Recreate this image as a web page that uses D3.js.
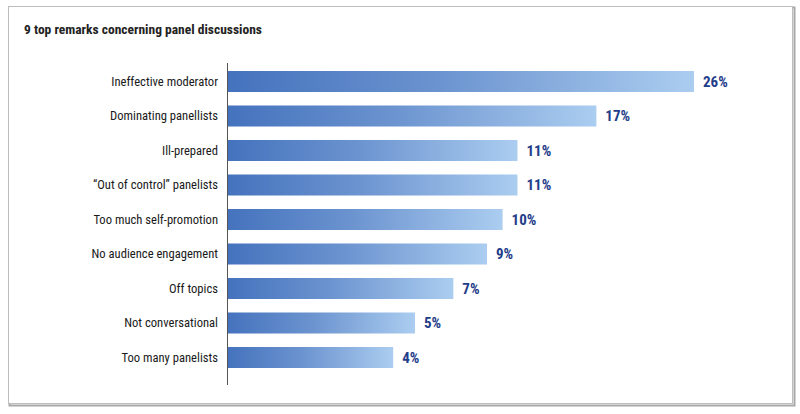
<!DOCTYPE html>
<html>
<head>
<meta charset="utf-8">
<script src="https://cdn.jsdelivr.net/npm/d3@7"></script>
<style>
  html, body { margin: 0; padding: 0; background: #fff; }
  svg { display: block; }
  text { font-family: "Liberation Sans Narrow", "Roboto Condensed", "DejaVu Sans Condensed", sans-serif; }
</style>
</head>
<body>
<svg id="chart" width="800" height="414"></svg>
<script>
const title = "9 top remarks concerning panel discussions";
const categories = [
  "Ineffective moderator",
  "Dominating panellists",
  "Ill-prepared",
  "\u201cOut of control\u201d panelists",
  "Too much self-promotion",
  "No audience engagement",
  "Off topics",
  "Not conversational",
  "Too many panelists"
];
const values = [26, 17, 11, 11, 10, 9, 7, 5, 4];
const valueLabels = ["26%", "17%", "11%", "11%", "10%", "9%", "7%", "5%", "4%"];

const data = categories.map((c, i) => ({ cat: c, v: values[i], lab: valueLabels[i] }));

const svg = d3.select("#chart");

// frame with soft shadow
svg.append("rect").attr("x", 9.5).attr("y", 7.5).attr("width", 785).attr("height", 398)
  .attr("fill", "none").attr("stroke", "#a8a8a8").attr("stroke-width", 2);
svg.append("rect").attr("x", 8.5).attr("y", 6.5).attr("width", 784).attr("height", 397)
  .attr("fill", "#fff").attr("stroke", "#bdbdbd").attr("stroke-width", 1);

svg.append("text")
  .attr("x", 24).attr("y", 34)
  .attr("font-size", 13.5).attr("font-weight", "bold").attr("fill", "#222")
  .text(title);

const x0 = 227;
const x = d3.scalePow().exponent(0.552).domain([0, 26]).range([x0, x0 + 467]);
const y = d3.scaleBand().domain(categories).range([64.25, 374.75])
  .paddingInner(0.391).paddingOuter(0.1957);

const defs = svg.append("defs");
const grad = defs.append("linearGradient").attr("id", "barGrad")
  .attr("x1", "0%").attr("x2", "100%").attr("y1", "0%").attr("y2", "0%");
grad.append("stop").attr("offset", "0%").attr("stop-color", "#4472bd");
grad.append("stop").attr("offset", "45%").attr("stop-color", "#6b93cf");
grad.append("stop").attr("offset", "100%").attr("stop-color", "#abcdf0");

const g = svg.append("g");

g.selectAll("rect.bar").data(data).join("rect")
  .attr("class", "bar")
  .attr("x", x(0))
  .attr("y", d => y(d.cat))
  .attr("width", d => x(d.v) - x(0))
  .attr("height", y.bandwidth())
  .attr("fill", "url(#barGrad)");

// category axis
const axis = d3.axisLeft(y).tickSize(0).tickPadding(9);
const ax = svg.append("g").attr("transform", `translate(${x0},0)`).call(axis);
ax.select(".domain").remove();
ax.selectAll("text").attr("font-size", 12.6).attr("fill", "#1a1a1a")
  .attr("font-family", "\"Liberation Sans Narrow\", \"Roboto Condensed\", sans-serif");

svg.append("line")
  .attr("x1", x0 + 0.5).attr("x2", x0 + 0.5).attr("y1", 63).attr("y2", 385)
  .attr("stroke", "#555").attr("stroke-width", 1);

g.selectAll("text.val").data(data).join("text")
  .attr("class", "val")
  .attr("x", d => x(d.v) + 9)
  .attr("y", d => y(d.cat) + y.bandwidth() / 2)
  .attr("dy", "0.36em")
  .attr("font-size", 15)
  .attr("font-weight", "bold")
  .attr("fill", "#1f3d8a")
  .text(d => d.lab);
</script>
</body>
</html>
